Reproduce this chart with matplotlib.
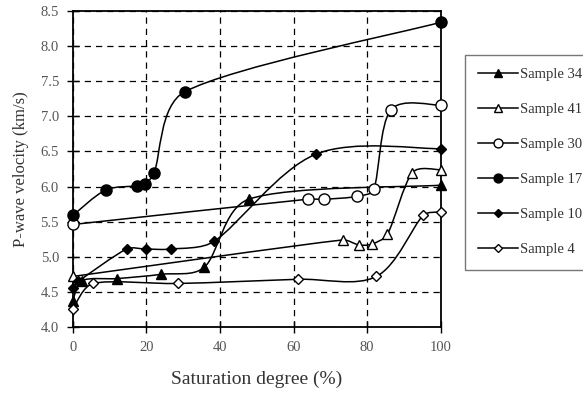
import numpy as np
import matplotlib
matplotlib.use("Agg")
import matplotlib.pyplot as plt
from matplotlib.path import Path
from matplotlib.patches import PathPatch
from matplotlib.lines import Line2D

plt.rcParams['font.family'] = ['Liberation Serif', 'DejaVu Serif']

# saturation degree (%) and P-wave velocity (km/s) per sample
s34_x = [0, 2.5, 12, 24, 35.7, 47.8, 100]
s34_y = [4.37, 4.66, 4.69, 4.75, 4.85, 5.82, 6.02]
s41_x = [0, 73.3, 77.7, 81.2, 85.5, 92.3, 100]
s41_y = [4.72, 5.24, 5.17, 5.18, 5.32, 6.20, 6.24]
s30_x = [0, 63.8, 68.3, 77.3, 81.8, 86.4, 100]
s30_y = [5.46, 5.82, 5.82, 5.86, 5.96, 7.09, 7.16]
s17_x = [0, 8.9, 17.5, 19.7, 22.1, 30.4, 100]
s17_y = [5.59, 5.95, 6.01, 6.03, 6.20, 7.35, 8.34]
s10_x = [0, 1.5, 14.6, 20, 26.6, 38.4, 66, 100]
s10_y = [4.56, 4.65, 5.11, 5.11, 5.11, 5.22, 6.46, 6.54]
s4_x = [0, 5.5, 28.5, 61.2, 82.5, 95.2, 100]
s4_y = [4.26, 4.62, 4.62, 4.68, 4.72, 5.59, 5.64]

labels = ['Sample 34', 'Sample 41', 'Sample 30', 'Sample 17', 'Sample 10', 'Sample 4']
series = [(s34_x, s34_y), (s41_x, s41_y), (s30_x, s30_y),
          (s17_x, s17_y), (s10_x, s10_y), (s4_x, s4_y)]
styles = [dict(marker='^', ms=7, mfc='black'),
          dict(marker='^', ms=7, mfc='white'),
          dict(marker='o', ms=8, mfc='white'),
          dict(marker='o', ms=8, mfc='black'),
          dict(marker='D', ms=5.5, mfc='black'),
          dict(marker='D', ms=5.5, mfc='white')]

# rough pixel scale of the axes, so the curve shape follows what is seen
SX, SY = 3.68, 70.2


def smooth_path(xs, ys):
    # Catmull-Rom curve as cubic Bezier segments, handles limited to a third
    # of the segment so short segments do not overshoot
    p = np.column_stack([np.asarray(xs) * SX, np.asarray(ys) * SY]).astype(float)
    ext = np.vstack([p[0], p, p[-1]])
    verts = [p[0]]
    codes = [Path.MOVETO]
    for i in range(len(p) - 1):
        p0, p1, p2, p3 = ext[i], ext[i + 1], ext[i + 2], ext[i + 3]
        lim = np.linalg.norm(p2 - p1) / 3
        h1 = (p2 - p0) / 6
        h2 = (p3 - p1) / 6
        for h in (h1, h2):
            n = np.linalg.norm(h)
            if n > lim:
                h *= lim / n
        verts += [p1 + h1, p2 - h2, p2]
        codes += [Path.CURVE4] * 3
    verts = np.array(verts) / [SX, SY]
    return Path(verts, codes)


fig = plt.figure(figsize=(5.83, 3.94), dpi=100)
ax = fig.add_axes([0.125, 0.170, 0.631, 0.802])

for (x, y), st, lab in zip(series, styles, labels):
    ax.add_patch(PathPatch(smooth_path(x, y), fill=False, ec='black', lw=1.1, zorder=3))
    ax.plot(x, y, ls='none', mec='black', mew=1.0, clip_on=False, zorder=4, **st)

ax.set_xlim(0, 100)
ax.set_ylim(4.0, 8.5)
ax.set_xticks(np.arange(0, 101, 20))
ax.set_yticks(np.arange(4.0, 8.51, 0.5))
ax.yaxis.set_major_formatter(plt.FormatStrFormatter('%.1f'))
ax.grid(True, ls=(0, (5, 4)), color='black', lw=0.9)
ax.tick_params(direction='inout', length=8, width=1, labelsize=10.5,
               labelcolor='#555555', pad=6)
for sp in ax.spines.values():
    sp.set_linewidth(1.3)

ax.set_xlabel('Saturation degree (%)', fontsize=14, color='#333333', labelpad=12)
ax.set_ylabel('P-wave velocity (km/s)', fontsize=12, color='#333333', labelpad=8)

handles = [Line2D([], [], color='black', lw=1.1, mec='black', **st) for st in styles]
leg = ax.legend(handles, labels, loc='upper left', bbox_to_anchor=(1.066, 0.862),
                fontsize=10.5, frameon=True, fancybox=False, edgecolor='#555555',
                handlelength=2.7, handletextpad=0.2, labelspacing=1.5,
                borderpad=0.9, borderaxespad=0, markerscale=0.8)
leg.get_frame().set_linewidth(1.0)
for t in leg.get_texts():
    t.set_color('#333333')

fig.savefig('out.png', dpi=100)
